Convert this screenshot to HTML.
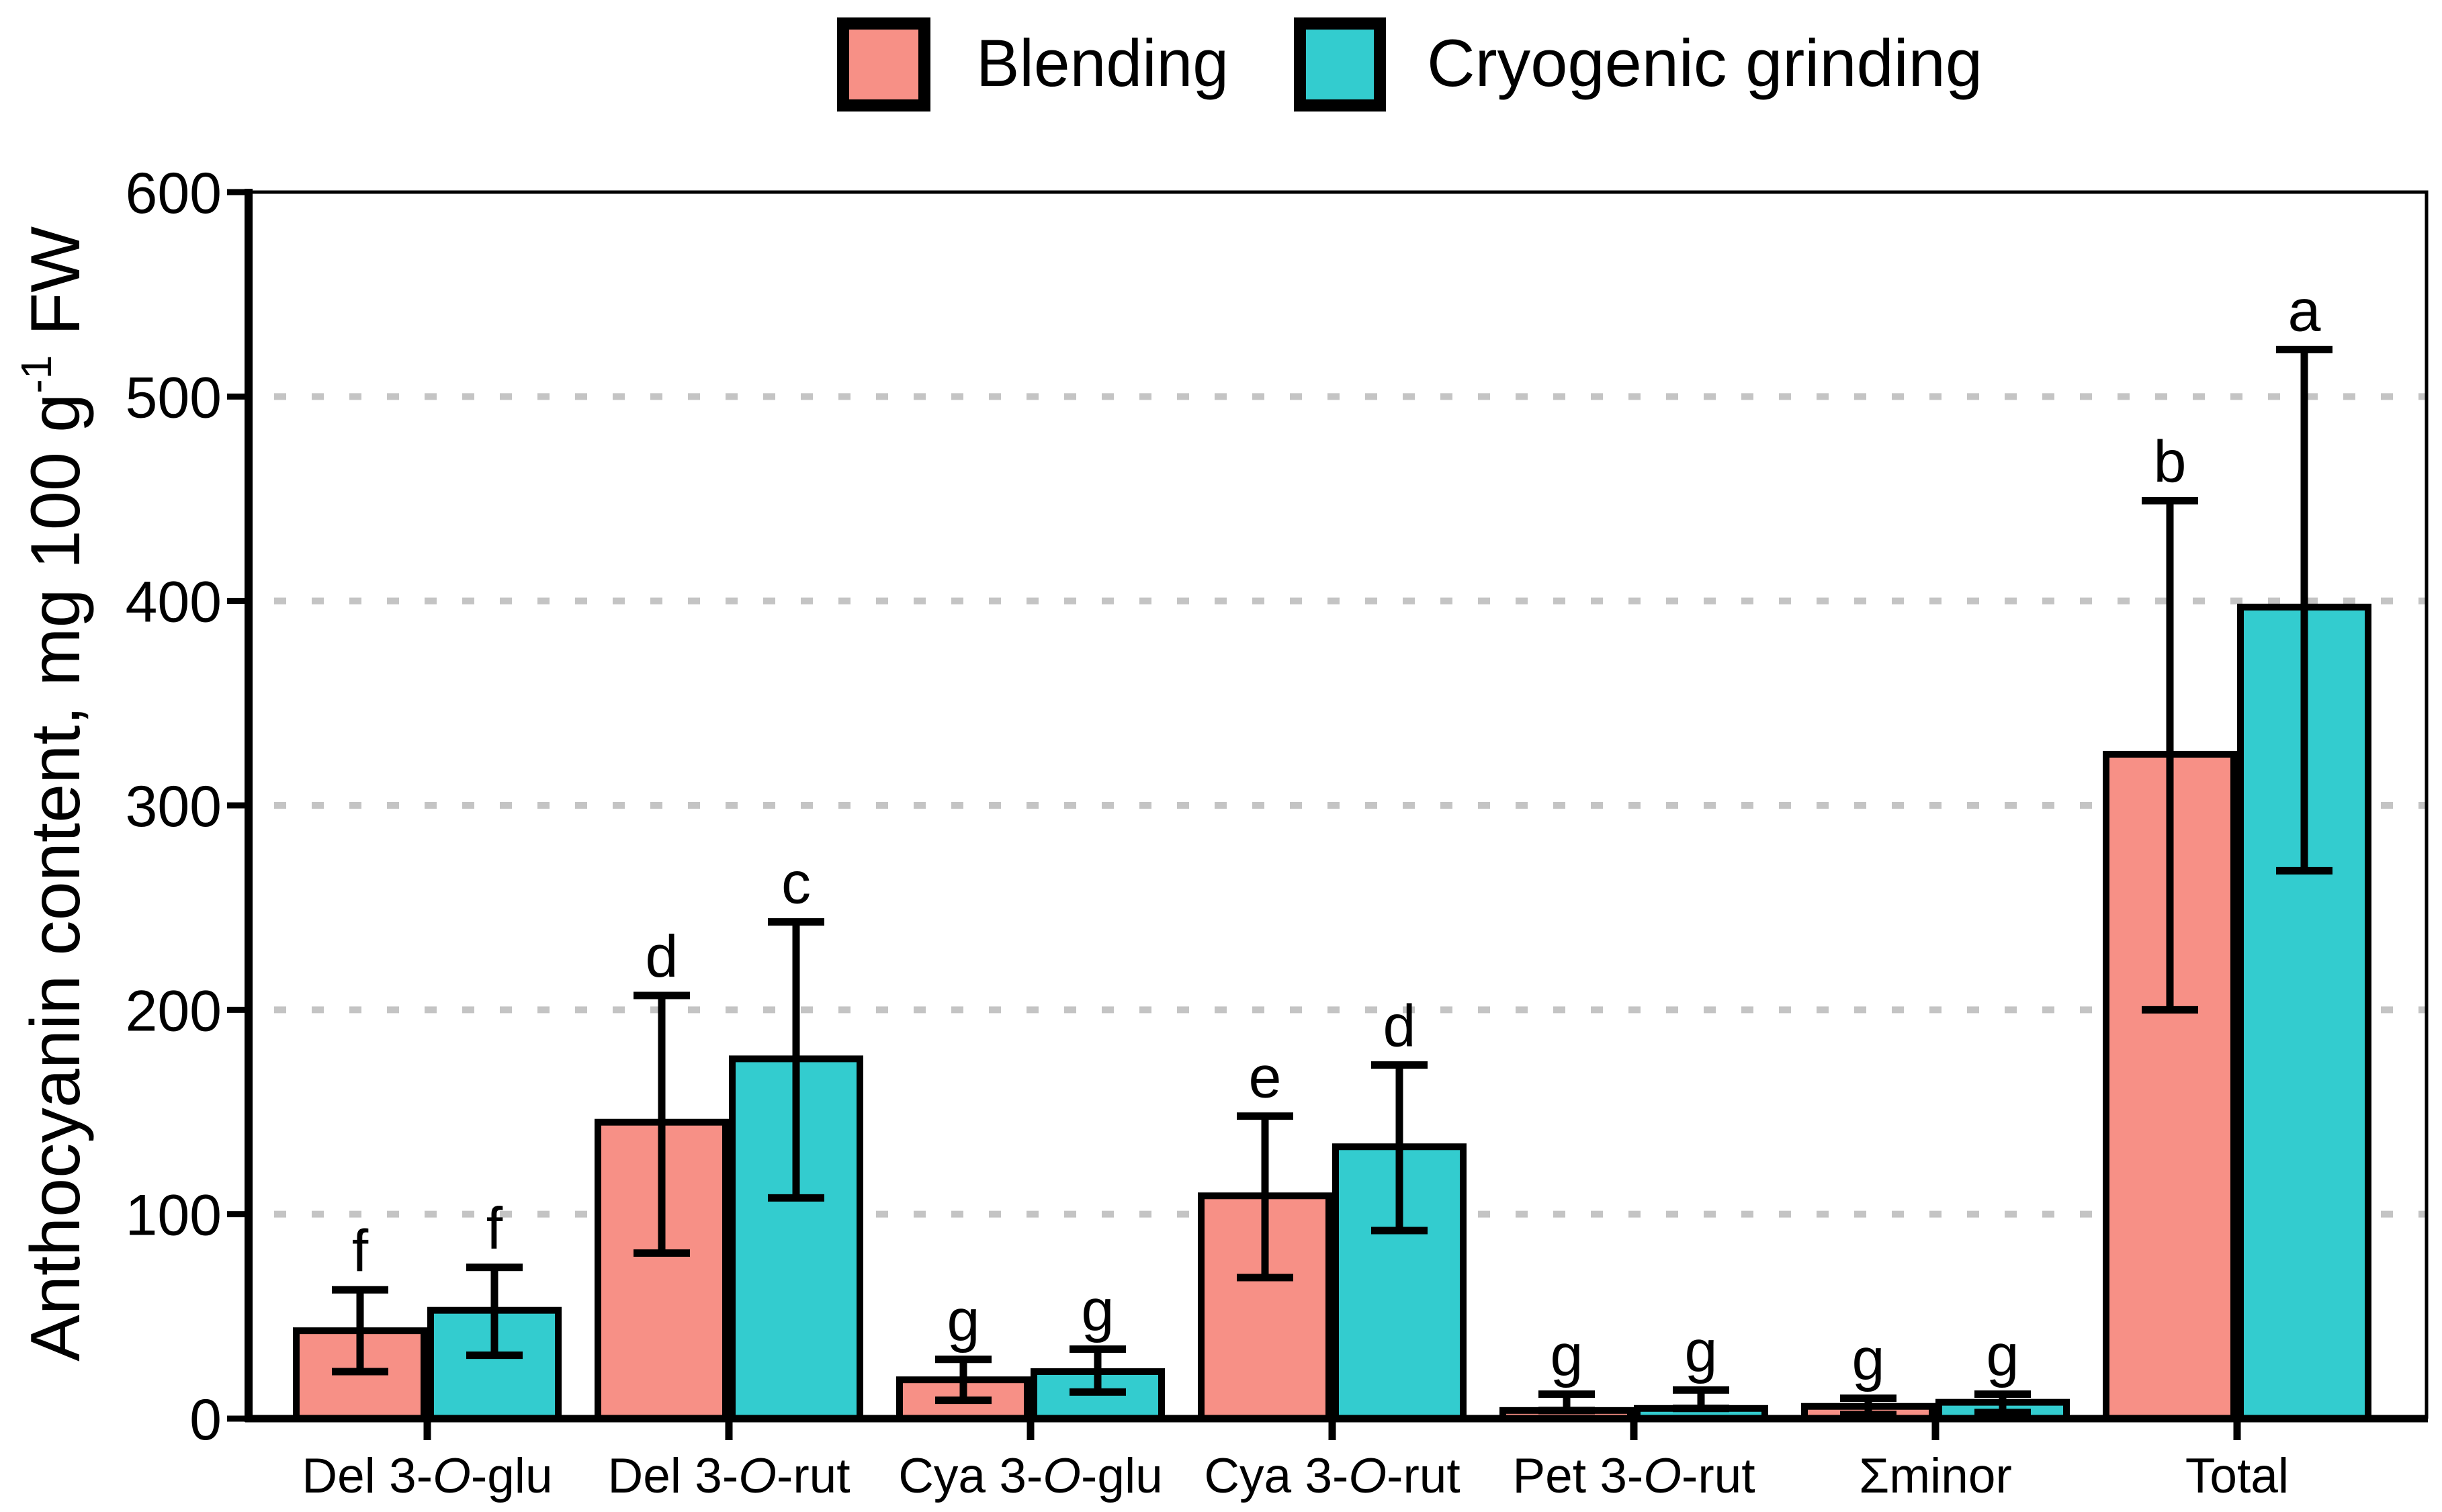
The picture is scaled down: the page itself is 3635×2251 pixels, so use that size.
<!DOCTYPE html>
<html><head><meta charset="utf-8"><style>
html,body{margin:0;padding:0;background:#fff}
svg{display:block}
text{font-family:"Liberation Sans",Arial,sans-serif;fill:#000}
</style></head><body>
<svg id="chart" width="3635" height="2251" viewBox="0 0 3635 2251" xmlns="http://www.w3.org/2000/svg">
<g>
  <rect x="1255" y="35" width="121" height="122" fill="#F79086" stroke="#000" stroke-width="18"/>
  <text x="1453" y="128" font-size="99" textLength="376" lengthAdjust="spacingAndGlyphs">Blending</text>
  <rect x="1935" y="35" width="119" height="122" fill="#33CCCF" stroke="#000" stroke-width="18"/>
  <text x="2124" y="128" font-size="99" textLength="827" lengthAdjust="spacingAndGlyphs">Cryogenic grinding</text>
</g>
<text transform="translate(118,1182) rotate(-90)" text-anchor="middle" font-size="104" textLength="1690" lengthAdjust="spacingAndGlyphs">Anthocyanin content, mg 100 g<tspan font-size="64" dy="-42">-1</tspan><tspan dy="42"> FW</tspan></text>
<g id="grid"></g>
<g id="bars"></g>
<g id="axes"></g>
</svg>
<script>
const categories = ["Del 3-O-glu","Del 3-O-rut","Cya 3-O-glu","Cya 3-O-rut","Pet 3-O-rut","\u03A3minor","Total"];
const blendValues = [43,145,19,109,4,6,325];
const blendLow = [23,81,9,69,4,2,200];
const blendHigh = [63,207,29,148,12,10,449];
const cryoValues = [53,176,23,133,5,8,397];
const cryoLow = [31,108,13,92,5,3,268];
const cryoHigh = [74,243,34,173,14,12,523];
const blendLetters = ["f","d","g","e","g","g","b"];
const cryoLetters = ["f","c","g","d","g","g","a"];
const yTicks = [0,100,200,300,400,500,600];
const gridTicks = [100,200,300,400,500];

const NS="http://www.w3.org/2000/svg";
const X0=370, X1=3612, Y0=2112, Ytop=286, YMAX=600;
const y = v => Y0 - (v/YMAX)*(Y0-Ytop);
const xc = i => 636 + 449*i;
const BW = 200;
function mk(tag, attrs, parent){const e=document.createElementNS(NS,tag);for(const k in attrs)e.setAttribute(k,attrs[k]);parent.appendChild(e);return e;}
const grid=document.getElementById('grid'), bars=document.getElementById('bars'), axes=document.getElementById('axes');

gridTicks.forEach(t=>{
  const l=mk('line',{x1:X0+38,x2:X1,y1:y(t),y2:y(t),stroke:'#c4c4c4','stroke-width':10,'stroke-dasharray':'18 38'},grid);
  
  
});

function drawBar(i, v, lo, hi, letter, side, color, series){
  const x = side<0 ? xc(i)-BW : xc(i);
  const r=mk('rect',{x:x+5,y:y(v),width:BW-10,height:Y0-y(v),fill:color,stroke:'#000','stroke-width':10},bars);
  
  
  const cx = x+BW/2;
  const eb=mk('path',{d:`M${cx},${y(lo)}V${y(hi)}M${cx-42},${y(hi)}H${cx+42}M${cx-42},${y(lo)}H${cx+42}`,stroke:'#000','stroke-width':11,fill:'none'},bars);
  
  
  const t=mk('text',{x:cx,y:y(hi)-28,'text-anchor':'middle','font-size':88},bars);
  t.textContent=letter;
  
  
}
categories.forEach((c,i)=>{
  drawBar(i,blendValues[i],blendLow[i],blendHigh[i],blendLetters[i],-1,'#F79086','blending');
  drawBar(i,cryoValues[i],cryoLow[i],cryoHigh[i],cryoLetters[i],1,'#33CCCF','cryogenic');
});

const fr=mk('path',{d:`M${X0},${Ytop}H${X1}V${Y0}`,stroke:'#000','stroke-width':5,fill:'none'},axes);


const ya=mk('line',{x1:X0,x2:X0,y1:Ytop-5,y2:Y0+5,stroke:'#000','stroke-width':12},axes);


const xa=mk('line',{x1:X0-5,x2:X1+2,y1:Y0,y2:Y0,stroke:'#000','stroke-width':11},axes);


yTicks.forEach(t=>{
  const tk=mk('line',{x1:X0-32,x2:X0,y1:y(t),y2:y(t),stroke:'#000','stroke-width':9},axes);
  
  
  const tl=mk('text',{x:X0-40,y:y(t)+31,'text-anchor':'end','font-size':86},axes);
  tl.textContent=t;
  
  
});
categories.forEach((c,i)=>{
  const tk=mk('line',{x1:xc(i),x2:xc(i),y1:Y0,y2:Y0+32,stroke:'#000','stroke-width':11},axes);
  
  
  const tl=mk('text',{x:xc(i),y:Y0+110,'text-anchor':'middle','font-size':73},axes);
  
  
  const m=c.match(/^(.*3-)O(-.*)$/);
  if(m){
    tl.appendChild(document.createTextNode(m[1]));
    const it=mk('tspan',{'font-style':'italic'},tl); it.textContent='O';
    tl.appendChild(document.createTextNode(m[2]));
  } else tl.textContent=c;
});
</script>
</body></html>
